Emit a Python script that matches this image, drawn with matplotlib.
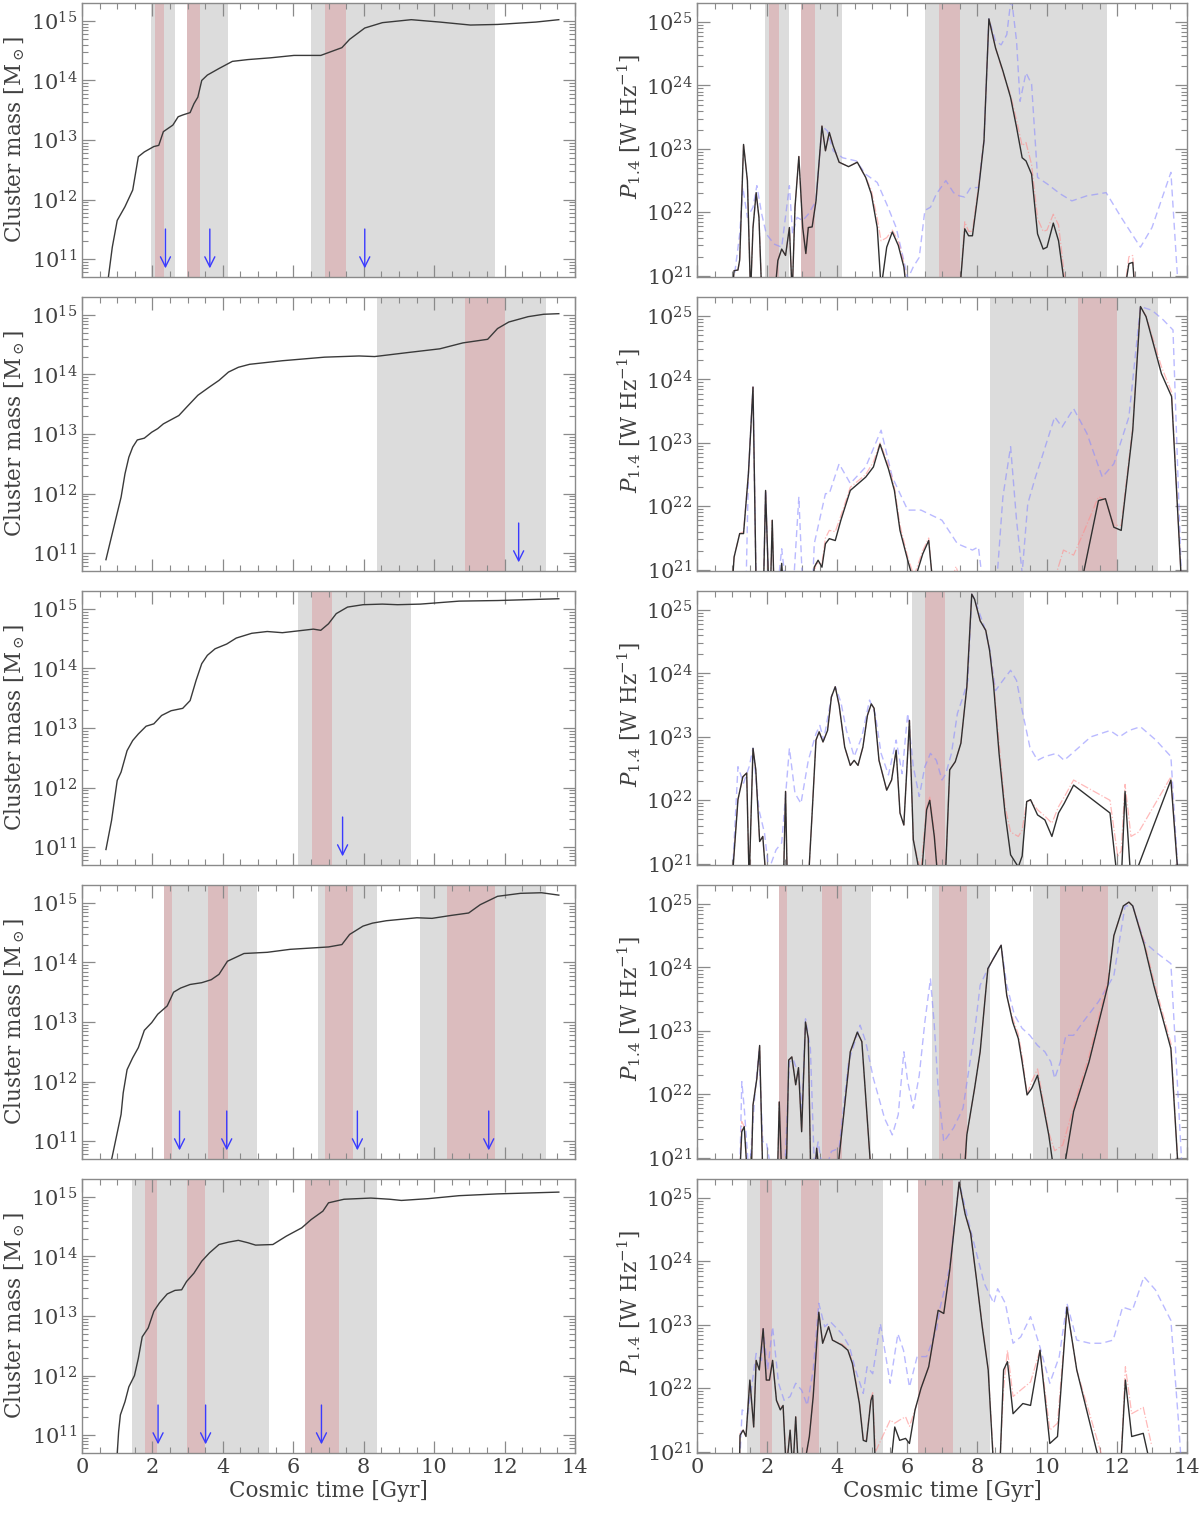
import numpy as np
import matplotlib
matplotlib.use("Agg")
import matplotlib.pyplot as plt
from matplotlib.ticker import MultipleLocator, LogLocator, NullFormatter

plt.rcParams['font.family'] = ['DejaVu Serif']
plt.rcParams['mathtext.fontset'] = 'dejavuserif'

# ---- cluster mass tracks (log10 M) ----
mass_t1 = [0.75, 0.86, 1.0, 1.22, 1.44, 1.60, 1.77, 2.04, 2.18, 2.31, 2.58, 2.73, 2.86, 3.07, 3.18, 3.29, 3.40, 3.56, 3.89, 4.27,
           4.71, 5.36, 6.02, 6.78, 7.38, 7.60, 8.03, 8.53, 9.35, 10.16, 11.03, 11.80, 12.89, 13.54]
mass_1 = [10.70, 11.2, 11.65, 11.88, 12.16, 12.72, 12.80, 12.89, 12.91, 13.14, 13.25, 13.39, 13.42, 13.46, 13.61, 13.72, 14.0, 14.09, 14.20, 14.32,
          14.35, 14.38, 14.42, 14.42, 14.55, 14.69, 14.88, 14.97, 15.02, 14.98, 14.93, 14.94, 14.98, 15.02]

mass_t2 = [0.68, 0.79, 0.95, 1.11, 1.22, 1.33, 1.44, 1.57, 1.77, 1.98, 2.15, 2.31, 2.75, 2.97, 3.29, 3.62, 3.89, 4.16, 4.44, 4.76,
           5.69, 6.89, 7.87, 8.31, 9.29, 10.16, 10.82, 11.52, 11.80, 12.12, 12.67, 13.11, 13.54]
mass_2 = [10.89, 11.16, 11.55, 11.94, 12.33, 12.61, 12.78, 12.90, 12.93, 13.03, 13.09, 13.17, 13.31, 13.45, 13.65, 13.79, 13.90, 14.04, 14.12, 14.17,
          14.23, 14.29, 14.31, 14.30, 14.37, 14.43, 14.53, 14.59, 14.77, 14.88, 14.97, 15.01, 15.02]

mass_t3 = [0.68, 0.84, 1.0, 1.11, 1.28, 1.44, 1.60, 1.82, 2.04, 2.26, 2.53, 2.86, 3.07, 3.24, 3.40, 3.56, 3.78, 4.11, 4.38, 4.82,
           5.26, 5.69, 6.13, 6.57, 6.78, 7.0, 7.22, 7.54, 7.98, 8.53, 8.96, 9.61, 10.71, 11.80, 13.54]
mass_3 = [10.96, 11.45, 12.12, 12.26, 12.62, 12.79, 12.90, 13.03, 13.07, 13.21, 13.29, 13.33, 13.46, 13.80, 14.08, 14.22, 14.33, 14.41, 14.51, 14.59,
          14.62, 14.60, 14.63, 14.66, 14.64, 14.75, 14.92, 15.03, 15.07, 15.08, 15.07, 15.08, 15.13, 15.14, 15.17]

mass_t4 = [0.84, 0.89, 1.0, 1.11, 1.17, 1.28, 1.44, 1.60, 1.77, 1.98, 2.15, 2.42, 2.60, 2.80, 3.07, 3.40, 3.67, 3.89, 4.13, 4.60,
           5.26, 5.91, 7.0, 7.38, 7.60, 7.98, 8.25, 8.64, 9.51, 9.94, 10.49, 10.98, 11.31, 11.80, 12.45, 13.05, 13.54]
mass_4 = [10.69, 10.83, 11.14, 11.45, 11.81, 12.20, 12.40, 12.57, 12.86, 12.99, 13.13, 13.27, 13.50, 13.57, 13.63, 13.66, 13.71, 13.80, 14.02, 14.15,
          14.17, 14.22, 14.26, 14.30, 14.47, 14.61, 14.66, 14.70, 14.75, 14.74, 14.79, 14.83, 14.97, 15.11, 15.16, 15.17, 15.13]

mass_t5 = [1.0, 1.04, 1.09, 1.22, 1.33, 1.49, 1.60, 1.71, 1.88, 2.04, 2.20, 2.42, 2.64, 2.83, 2.97, 3.18, 3.40, 3.62, 3.89, 4.16,
           4.44, 4.71, 4.93, 5.42, 5.80, 6.24, 6.51, 6.84, 7.0, 7.44, 8.20, 8.74, 9.07, 9.83, 10.71, 11.80, 13.54]
mass_5 = [10.69, 11.06, 11.34, 11.56, 11.81, 12.0, 12.29, 12.65, 12.80, 13.08, 13.22, 13.37, 13.43, 13.44, 13.58, 13.72, 13.92, 14.06, 14.20, 14.24,
          14.27, 14.23, 14.19, 14.20, 14.34, 14.48, 14.62, 14.76, 14.90, 14.96, 14.98, 14.96, 14.94, 14.97, 15.02, 15.05, 15.08]

# merger arrows (Gyr)
arrows_1 = [2.37, 3.63, 8.03]
arrows_2 = [12.40]
arrows_3 = [7.40]
arrows_4 = [2.77, 4.11, 7.82, 11.55]
arrows_5 = [2.16, 3.51, 6.80]

# shaded windows (Gyr)
gray_1 = [(1.95, 2.63), (2.97, 4.14), (6.51, 11.72)]
red_1 = [(2.07, 2.33), (2.97, 3.36), (6.90, 7.50)]
gray_2 = [(8.38, 13.17)]
red_2 = [(10.89, 12.0)]
gray_3 = [(6.14, 9.33)]
red_3 = [(6.52, 7.09)]
gray_4 = [(2.33, 4.97), (6.70, 8.38), (9.59, 13.17)]
red_4 = [(2.33, 2.56), (3.58, 4.15), (6.90, 7.70), (10.37, 11.73)]
gray_5 = [(1.42, 5.30), (6.32, 8.38)]
red_5 = [(1.79, 2.13), (2.98, 3.49), (6.32, 7.30)]

# ---- radio power P_1.4 (log10 W/Hz) ----
p_t1 = [1.0, 1.06, 1.17, 1.22, 1.33, 1.44, 1.53, 1.60, 1.69, 1.77, 1.85, 2.22, 2.31, 2.42, 2.53, 2.64, 2.72, 2.80, 2.91, 3.02,
        3.11, 3.18, 3.29, 3.40, 3.57, 3.67, 3.78, 3.89, 4.06, 4.33, 4.58, 4.82, 4.98, 5.15, 5.26, 5.42, 5.58, 5.75, 5.91, 6.0,
        7.50, 7.65, 7.76, 7.87, 8.04, 8.20, 8.34, 8.53, 8.74, 8.96, 9.13, 9.29, 9.40, 9.56, 9.73, 9.89, 10.0, 10.18, 10.33, 10.54,
        12.20, 12.34, 12.45, 12.52]
p_black1 = [20.7, 21.08, 21.09, 21.25, 23.07, 22.50, 20.7, 21.76, 22.31, 21.92, 20.7, 20.7, 21.24, 21.42, 21.32, 21.76, 20.7, 22.08, 22.88, 21.76,
            21.35, 21.76, 21.77, 22.18, 23.36, 22.97, 23.26, 23.05, 22.79, 22.72, 22.79, 22.55, 22.29, 21.76, 20.8, 21.45, 21.69, 21.48, 21.14, 20.7,
            20.7, 21.74, 21.63, 21.63, 22.34, 23.13, 25.05, 24.59, 24.23, 23.81, 23.34, 22.86, 22.81, 22.60, 21.66, 21.42, 21.45, 21.83, 21.55, 20.7,
            20.7, 21.19, 21.21, 20.7]
p_red1 = [20.7, 21.08, 21.09, 21.25, 23.07, 22.50, 20.7, 21.76, 22.31, 21.92, 20.7, 20.7, 21.24, 21.42, 21.32, 21.76, 20.7, 22.08, 22.88, 21.76,
          21.35, 21.76, 21.77, 22.18, 23.36, 22.97, 23.26, 23.05, 22.79, 22.72, 22.79, 22.55, 22.35, 21.9, 21.55, 21.6, 21.72, 21.55, 21.2, 20.7,
          20.7, 21.85, 21.7, 21.7, 22.4, 23.15, 25.05, 24.6, 24.2, 23.85, 23.45, 23.05, 23.1, 22.75, 21.9, 21.7, 21.72, 21.97, 21.8, 20.8,
          20.7, 21.3, 21.32, 20.7]
p_blue_t1 = [1.0, 1.22, 1.31, 1.44, 1.60, 1.71, 1.85, 1.98, 2.20, 2.42, 2.64, 2.73, 2.86, 3.02, 3.18, 3.40, 3.57, 3.73, 3.89, 4.16,
             4.55, 4.82, 5.15, 5.42, 5.69, 5.91, 6.02, 6.18, 6.35, 6.51, 6.67, 6.84, 7.11, 7.33, 7.49, 7.65, 7.82, 8.04, 8.20, 8.34,
             8.53, 8.69, 8.85, 8.98, 9.13, 9.23, 9.40, 9.56, 9.73, 10.0, 10.38, 10.71, 11.14, 11.69, 12.12, 12.67, 13.0, 13.54, 13.76]
p_blue1 = [20.7, 21.66, 22.39, 21.92, 22.08, 22.42, 21.97, 21.66, 21.50, 21.45, 22.42, 21.66, 21.92, 21.87, 21.97, 22.18, 23.36, 23.28, 22.97, 22.86,
           22.81, 22.60, 22.47, 22.13, 21.76, 21.24, 20.95, 21.14, 21.29, 22.03, 22.08, 22.29, 22.50, 22.31, 22.26, 22.24, 22.39, 22.39, 23.13, 25.05,
           24.70, 24.64, 24.80, 25.4, 24.70, 23.75, 24.20, 24.02, 22.55, 22.45, 22.29, 22.18, 22.26, 22.31, 21.92, 21.45, 21.76, 22.63, 20.7]

p_t2 = [1.0, 1.06, 1.22, 1.33, 1.47, 1.60, 1.69, 1.90, 1.96, 2.05, 2.10, 2.15, 2.20, 2.35, 2.42, 2.47, 3.30, 3.35, 3.46, 3.57,
        3.67, 3.78, 3.95, 4.11, 4.38, 4.82, 5.04, 5.23, 5.47, 5.64, 5.80, 6.02, 6.20, 6.45, 6.62, 6.75, 10.95, 11.47, 11.67, 11.91,
        12.12, 12.45, 12.67, 12.83, 13.27, 13.56, 13.85]
p_black2 = [20.7, 21.2, 21.57, 21.57, 22.52, 23.88, 20.7, 20.7, 22.25, 20.7, 20.7, 21.78, 20.7, 20.7, 21.1, 20.7, 20.7, 21.04, 21.15, 21.04,
            21.41, 21.49, 21.46, 21.78, 22.25, 22.46, 22.62, 22.98, 22.59, 22.25, 21.62, 21.15, 20.8, 21.25, 21.46, 20.7, 20.7, 22.09, 22.12, 21.67,
            21.62, 23.20, 25.15, 24.99, 24.09, 23.73, 20.7]
p_red_t2 = [1.0, 1.06, 1.22, 1.33, 1.47, 1.60, 1.69, 1.90, 1.96, 2.05, 2.10, 2.15, 2.20, 3.30, 3.40, 3.57, 3.67, 3.78, 3.95, 4.11,
            4.38, 4.82, 5.04, 5.23, 5.47, 5.64, 5.80, 6.02, 6.20, 6.45, 6.62, 6.75, 7.2, 7.4, 7.6, 10.1, 10.3, 10.47, 10.76, 11.03,
            11.47, 11.67, 11.91, 12.12, 12.45, 12.67, 12.83, 13.27, 13.56, 13.85]
p_red2 = [20.7, 21.2, 21.57, 21.6, 22.52, 23.88, 20.7, 20.7, 22.25, 20.7, 20.7, 21.78, 20.7, 20.7, 21.1, 21.1, 21.5, 21.62, 21.6, 21.85,
          22.3, 22.5, 22.7, 23.0, 22.65, 22.3, 21.7, 21.2, 20.9, 21.3, 21.5, 20.7, 20.7, 21.05, 20.7, 20.7, 21.0, 21.31, 21.23, 21.57,
          22.15, 22.1, 21.7, 21.7, 23.25, 25.15, 25.0, 24.2, 23.8, 20.7]
p_blue_t2 = [1.40, 1.47, 1.60, 1.69, 1.90, 1.96, 2.05, 2.30, 2.42, 2.55, 2.75, 2.91, 3.02, 3.30, 3.35, 3.67, 3.78, 4.06, 4.38, 4.82,
             5.26, 5.58, 6.02, 6.40, 7.0, 7.44, 7.87, 8.04, 8.14, 8.55, 8.74, 8.96, 9.13, 9.29, 9.45, 9.67, 9.83, 10.22, 10.43, 10.76,
             11.14, 11.58, 11.91, 12.34, 12.67, 13.0, 13.32, 13.60, 13.85]
p_blue2 = [20.7, 22.52, 23.88, 20.7, 20.7, 22.25, 20.7, 20.7, 21.33, 20.7, 20.7, 22.15, 20.7, 20.7, 21.41, 22.2, 22.2, 22.67, 22.36, 22.62,
           23.2, 22.46, 21.94, 21.94, 21.78, 21.41, 21.31, 21.36, 20.9, 20.7, 22.15, 22.94, 21.78, 20.95, 22.04, 22.46, 22.73, 23.41, 23.25, 23.54,
           23.15, 22.46, 22.67, 23.41, 25.15, 25.09, 24.94, 24.78, 20.7]

p_t3 = [1.0, 1.17, 1.31, 1.42, 1.49, 1.60, 1.68, 1.79, 1.88, 1.98, 2.47, 2.53, 2.58, 3.18, 3.29, 3.40, 3.49, 3.60, 3.73, 3.84,
        3.95, 4.06, 4.22, 4.38, 4.49, 4.60, 4.74, 4.87, 4.98, 5.06, 5.20, 5.42, 5.56, 5.69, 5.80, 5.91, 6.07, 6.18, 6.29, 6.40,
        6.56, 6.65, 6.78, 6.89, 7.09, 7.22, 7.38, 7.54, 7.71, 7.85, 7.93, 8.09, 8.25, 8.36, 8.47, 8.63, 8.80, 8.96, 9.18, 9.29,
        9.42, 9.53, 9.73, 9.94, 10.14, 10.33, 10.49, 10.76, 11.80, 12.02, 12.12, 12.23, 12.40, 12.62, 13.54, 13.76]
p_black3 = [20.7, 22.01, 22.37, 22.43, 20.7, 22.82, 22.48, 21.35, 21.43, 20.7, 20.7, 22.14, 20.7, 20.7, 21.80, 22.95, 23.08, 22.92, 23.10, 23.63,
            23.79, 23.50, 22.84, 22.55, 22.63, 22.55, 22.84, 23.34, 23.52, 23.45, 22.63, 22.16, 22.32, 22.79, 21.80, 21.61, 23.26, 21.38, 21.06, 20.7,
            21.85, 22.0, 21.43, 20.7, 20.7, 22.48, 22.61, 22.90, 23.79, 25.25, 25.17, 24.83, 24.68, 24.36, 23.84, 22.74, 21.80, 21.14, 20.95, 21.12,
            21.98, 22.01, 21.77, 21.69, 21.43, 21.80, 21.95, 22.24, 21.80, 20.7, 20.7, 22.14, 20.7, 20.98, 22.32, 20.7]
p_red3 = [20.7, 22.01, 22.37, 22.43, 20.7, 22.82, 22.48, 21.35, 21.43, 20.7, 20.7, 22.14, 20.7, 20.7, 21.80, 22.95, 23.08, 22.92, 23.10, 23.63,
          23.79, 23.50, 22.84, 22.55, 22.63, 22.55, 22.84, 23.34, 23.52, 23.45, 22.63, 22.16, 22.32, 22.79, 21.80, 21.61, 23.26, 21.38, 21.10, 20.9,
          21.9, 22.05, 21.5, 20.7, 20.7, 22.48, 22.61, 22.90, 23.79, 25.25, 25.17, 24.83, 24.68, 24.36, 23.9, 22.9, 21.9, 21.5, 21.43, 21.53,
          21.98, 22.0, 21.85, 21.75, 21.64, 21.9, 22.05, 22.32, 22.0, 21.12, 21.2, 22.25, 21.43, 21.5, 22.37, 20.7]
p_blue_t3 = [1.0, 1.17, 1.33, 1.49, 1.60, 1.77, 1.93, 2.05, 2.26, 2.42, 2.64, 2.80, 2.97, 3.18, 3.40, 3.51, 3.62, 3.84, 3.95, 4.11,
             4.27, 4.49, 4.71, 4.93, 5.09, 5.26, 5.47, 5.69, 5.86, 6.02, 6.18, 6.35, 6.51, 6.67, 6.84, 7.0, 7.11, 7.27, 7.44, 7.60,
             7.74, 7.85, 7.93, 8.20, 8.36, 8.53, 8.74, 8.96, 9.13, 9.29, 9.51, 9.73, 9.94, 10.27, 10.49, 10.82, 11.25, 11.80, 12.07, 12.34,
             12.67, 13.11, 13.54, 13.76]
p_blue3 = [20.7, 22.53, 22.27, 22.53, 22.82, 21.85, 21.48, 20.9, 21.22, 21.33, 22.82, 22.11, 21.95, 22.63, 23.05, 23.18, 22.95, 23.63, 23.79, 23.55,
           23.10, 22.69, 23.0, 23.58, 23.37, 22.74, 22.40, 22.95, 22.42, 23.37, 22.53, 22.06, 22.53, 22.74, 22.63, 22.32, 22.42, 22.74, 23.37, 23.63,
           23.89, 25.25, 25.17, 24.75, 24.40, 23.73, 23.89, 24.05, 23.89, 23.42, 22.84, 22.63, 22.69, 22.74, 22.63, 22.79, 23.0, 23.10, 23.0, 23.10,
           23.16, 22.95, 22.69, 20.7]

p_t4 = [1.22, 1.28, 1.35, 1.44, 1.55, 1.60, 1.71, 1.79, 1.88, 2.30, 2.35, 2.42, 2.55, 2.62, 2.71, 2.82, 2.90, 2.99, 3.10, 3.18,
        3.25, 3.36, 3.42, 3.50, 4.0, 4.22, 4.38, 4.58, 4.71, 4.98, 7.63, 7.71, 7.93, 8.09, 8.31, 8.47, 8.69, 8.85, 9.02, 9.18,
        9.29, 9.43, 9.56, 9.73, 9.89, 10.05, 10.22, 10.45, 10.76, 11.20, 11.74, 11.91, 12.18, 12.34, 12.45, 12.78, 13.05, 13.54, 13.76]
p_black4 = [20.7, 21.41, 21.49, 20.7, 20.7, 21.83, 22.25, 22.77, 20.7, 20.7, 21.88, 20.7, 20.7, 22.54, 22.59, 22.15, 22.42, 21.41, 23.14, 22.88,
            20.7, 20.7, 21.15, 20.7, 20.7, 21.83, 22.67, 22.98, 22.83, 20.7, 20.7, 21.36, 22.09, 22.67, 23.98, 24.14, 24.35, 23.56, 23.14, 22.88,
            22.51, 21.99, 22.09, 22.30, 21.83, 21.36, 20.7, 20.7, 21.73, 22.51, 23.72, 24.50, 24.97, 25.03, 24.97, 24.35, 23.72, 22.72, 20.7]
p_red4 = [20.7, 21.57, 21.49, 20.7, 20.7, 21.83, 22.25, 22.77, 20.7, 20.7, 21.88, 20.7, 20.7, 22.54, 22.59, 22.15, 22.42, 21.41, 23.14, 22.88,
          20.7, 20.7, 21.15, 20.7, 20.7, 21.83, 22.67, 22.98, 22.83, 20.7, 20.7, 21.36, 22.09, 22.67, 23.98, 24.14, 24.35, 23.56, 23.2, 22.95,
          22.6, 22.0, 22.2, 22.40, 21.9, 21.4, 21.11, 21.2, 21.8, 22.6, 23.8, 24.5, 24.97, 25.03, 24.97, 24.4, 23.8, 22.8, 20.7]
p_blue_t4 = [1.22, 1.28, 1.35, 1.49, 1.66, 1.77, 1.88, 1.98, 2.15, 2.50, 2.64, 2.75, 2.91, 3.0, 3.10, 3.24, 3.35, 3.46, 3.62, 3.84,
             4.06, 4.33, 4.66, 4.82, 5.04, 5.36, 5.58, 5.75, 5.91, 6.02, 6.18, 6.35, 6.51, 6.67, 6.78, 6.89, 7.05, 7.33, 7.60, 7.93,
             8.09, 8.31, 8.47, 8.69, 8.85, 9.07, 9.29, 9.51, 9.73, 9.94, 10.11, 10.22, 10.38, 10.54, 10.76, 11.03, 11.47, 11.91, 12.23, 12.45,
             12.78, 13.11, 13.54, 13.87]
p_blue4 = [20.7, 22.20, 21.78, 20.7, 22.04, 22.67, 21.25, 21.25, 20.7, 20.7, 22.51, 22.55, 22.30, 21.78, 23.19, 22.72, 20.9, 21.25, 20.7, 21.10,
           21.15, 22.51, 23.09, 22.83, 22.25, 21.62, 21.36, 21.68, 22.67, 22.20, 21.78, 22.30, 23.14, 23.82, 23.09, 22.09, 21.25, 21.47, 21.78, 22.98,
           23.72, 23.98, 24.14, 24.35, 23.72, 23.25, 23.04, 22.93, 22.77, 22.67, 22.51, 22.25, 22.51, 22.93, 22.93, 23.14, 23.46, 23.87, 24.97, 24.97,
           24.40, 24.24, 24.06, 20.7]

p_t5 = [1.21, 1.23, 1.32, 1.40, 1.51, 1.62, 1.69, 1.78, 1.89, 1.98, 2.07, 2.16, 2.27, 2.38, 2.46, 2.55, 2.66, 2.74, 2.82, 2.90,
        3.04, 3.21, 3.32, 3.48, 3.59, 3.76, 3.87, 4.14, 4.31, 4.44, 4.64, 4.75, 4.84, 4.97, 5.02, 5.10, 5.52, 5.65, 5.79, 5.96,
        6.07, 6.23, 6.40, 6.62, 6.89, 7.05, 7.22, 7.49, 7.66, 7.82, 7.99, 8.15, 8.32, 8.48, 8.65, 8.76, 8.87, 9.03, 9.31, 9.53,
        9.80, 10.08, 10.30, 10.57, 10.85, 11.56, 12.10, 12.24, 12.42, 12.75, 12.99]
p_black5 = [20.7, 21.26, 21.34, 21.24, 22.13, 21.39, 22.44, 22.29, 22.94, 22.13, 22.13, 22.44, 21.81, 21.66, 21.73, 20.7, 21.34, 20.7, 21.55, 20.7,
            20.7, 21.24, 21.87, 23.20, 22.71, 22.97, 22.76, 22.68, 22.60, 22.39, 21.76, 21.18, 21.16, 21.81, 21.89, 20.7, 20.7, 21.39, 21.18, 21.21,
            21.13, 21.66, 22.0, 22.34, 23.23, 23.18, 23.86, 25.25, 24.75, 24.44, 23.70, 22.97, 22.29, 20.7, 20.7, 22.29, 22.42, 21.60, 21.76, 21.73,
            22.60, 21.13, 21.24, 23.28, 22.29, 20.7, 20.7, 22.13, 21.24, 21.29, 20.7]
p_red5 = [20.7, 21.3, 21.34, 21.24, 22.13, 21.39, 22.44, 22.29, 22.94, 22.13, 22.13, 22.44, 21.81, 21.7, 21.73, 20.8, 21.34, 20.7, 21.55, 20.7,
          20.7, 21.24, 21.87, 23.20, 22.71, 22.97, 22.76, 22.7, 22.62, 22.42, 21.8, 21.2, 21.18, 21.85, 21.93, 21.0, 21.5, 21.45, 21.5, 21.55,
          21.4, 21.66, 22.0, 22.34, 23.23, 23.18, 23.86, 25.25, 24.75, 24.44, 23.70, 23.0, 22.3, 20.8, 20.8, 22.0, 22.6, 21.87, 22.0, 22.1,
          22.6, 21.34, 21.45, 23.28, 22.29, 20.95, 20.7, 22.34, 21.6, 21.70, 21.1]
p_blue_t5 = [1.21, 1.29, 1.45, 1.56, 1.69, 1.84, 1.89, 2.02, 2.16, 2.33, 2.49, 2.66, 2.82, 2.99, 3.15, 3.32, 3.48, 3.65, 3.81, 4.14,
             4.36, 4.53, 4.75, 4.86, 5.02, 5.24, 5.52, 5.74, 5.90, 6.07, 6.29, 6.56, 6.84, 6.95, 7.22, 7.49, 7.82, 7.99, 8.21, 8.48,
             8.59, 8.81, 9.03, 9.25, 9.53, 9.80, 10.08, 10.35, 10.57, 10.85, 11.23, 11.56, 11.89, 12.16, 12.44, 12.77, 13.10, 13.54, 13.76, 13.85]
p_blue5 = [20.7, 21.66, 21.60, 22.02, 22.55, 22.44, 22.94, 22.29, 22.97, 22.08, 21.81, 21.87, 22.08, 21.97, 21.73, 22.29, 23.34, 22.97, 23.05, 22.86,
           22.65, 22.29, 21.92, 22.34, 22.23, 23.02, 22.08, 22.86, 22.60, 22.02, 22.50, 22.50, 22.92, 23.28, 23.91, 25.25, 24.49, 24.12, 23.65, 23.34,
           23.57, 23.34, 22.71, 22.81, 23.13, 22.65, 22.08, 22.50, 23.34, 22.76, 22.71, 22.71, 22.76, 23.28, 23.23, 23.76, 23.55, 23.07, 21.45, 20.7]

# ---- grouping per row ----
mass_rows = [(mass_t1, mass_1), (mass_t2, mass_2), (mass_t3, mass_3), (mass_t4, mass_4), (mass_t5, mass_5)]
arrow_rows = [arrows_1, arrows_2, arrows_3, arrows_4, arrows_5]
gray_rows = [gray_1, gray_2, gray_3, gray_4, gray_5]
red_rows = [red_1, red_2, red_3, red_4, red_5]
power_rows = [
    (p_t1, p_black1, p_t1, p_red1, p_blue_t1, p_blue1),
    (p_t2, p_black2, p_red_t2, p_red2, p_blue_t2, p_blue2),
    (p_t3, p_black3, p_t3, p_red3, p_blue_t3, p_blue3),
    (p_t4, p_black4, p_t4, p_red4, p_blue_t4, p_blue4),
    (p_t5, p_black5, p_t5, p_red5, p_blue_t5, p_blue5),
]

GRAY = '#dcdcdc'
PINK = '#dbbcbe'
AX_COL = '#8a8a8a'
TXT_COL = '#404040'

fig = plt.figure(figsize=(12, 15.13), dpi=100)

W, H = 1200, 1513


def style_axes(ax, bottom_row):
    ax.set_xlim(0, 14)
    ax.xaxis.set_major_locator(MultipleLocator(2))
    ax.xaxis.set_minor_locator(MultipleLocator(0.5))
    ax.yaxis.set_major_locator(LogLocator(base=10, numticks=20))
    ax.yaxis.set_minor_locator(LogLocator(base=10, subs=np.arange(2, 10), numticks=100))
    ax.yaxis.set_minor_formatter(NullFormatter())
    ax.tick_params(which='both', direction='in', top=True, right=True, color=AX_COL,
                   labelcolor=TXT_COL, labelsize=15)
    ax.tick_params(which='major', length=9, width=0.9)
    ax.tick_params(which='minor', length=4.5, width=0.8)
    for s in ax.spines.values():
        s.set_color(AX_COL)
        s.set_linewidth(1.0)
    if bottom_row:
        ax.set_xlabel('Cosmic time [Gyr]', fontsize=15.5, color=TXT_COL, labelpad=2)
    else:
        ax.tick_params(labelbottom=False)


for i in range(5):
    top_px = 3 + i * 294
    bot = 1 - (top_px + 274) / H
    h = 274 / H

    # left: cluster mass
    axl = fig.add_axes([82 / W, bot, 493 / W, h])
    for a, b in gray_rows[i]:
        axl.axvspan(a, b, color=GRAY, lw=0, zorder=0)
    for a, b in red_rows[i]:
        axl.axvspan(a, b, color=PINK, lw=0, zorder=0.5)
    mt, mv = mass_rows[i]
    axl.plot(mt, 10 ** np.array(mv), color='#3a3a3a', lw=1.0, zorder=3)
    for ta in arrow_rows[i]:
        axl.annotate('', xy=(ta, 7e10), xytext=(ta, 3.2e11),
                     arrowprops=dict(arrowstyle='->', color='#3a3aff', lw=1.0,
                                     mutation_scale=18, shrinkA=0, shrinkB=0), zorder=4)
    axl.set_yscale('log')
    axl.set_ylim(10 ** 10.70, 10 ** 15.30)
    style_axes(axl, i == 4)
    axl.set_ylabel(r'Cluster mass [M$_\odot$]', fontsize=15.5, color=TXT_COL)
    axl.yaxis.set_label_coords(-0.112, 0.5)

    # right: radio power
    axr = fig.add_axes([697 / W, bot, 490 / W, h])
    for a, b in gray_rows[i]:
        axr.axvspan(a, b, color=GRAY, lw=0, zorder=0)
    for a, b in red_rows[i]:
        axr.axvspan(a, b, color=PINK, lw=0, zorder=0.5)
    tb, vb, tr, vr, tbl, vbl = power_rows[i]
    axr.plot(tbl, 10 ** np.array(vbl), color='#8c8cff', lw=1.0, ls=(0, (5, 3)), alpha=0.6, zorder=2)
    axr.plot(tr, 10 ** np.array(vr), color='#ff8c8c', lw=0.9, ls='-.', alpha=0.6, zorder=2.5)
    axr.plot(tb, 10 ** np.array(vb), color='#303030', lw=1.0, zorder=3)
    axr.set_yscale('log')
    axr.set_ylim(10 ** 20.98, 10 ** 25.30)
    style_axes(axr, i == 4)
    axr.set_ylabel(r'$P_{1.4}$ [W Hz$^{-1}$]', fontsize=15.5, color=TXT_COL)
    axr.yaxis.set_label_coords(-0.11, 0.55)

fig.savefig('out.png', dpi=100)
